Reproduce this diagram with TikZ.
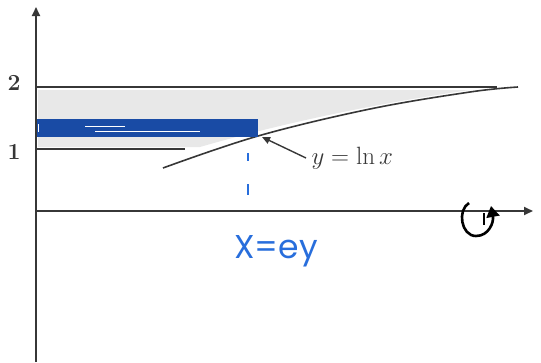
\documentclass[tikz,border=0pt]{standalone}
\usepackage{fontspec}
\newfontfamily\handfont{Poppins}
\usetikzlibrary{arrows.meta}
\definecolor{ink}{RGB}{55,55,55}
\definecolor{penblue}{RGB}{25,75,165}
\definecolor{lightblue}{RGB}{40,110,220}
\definecolor{greyfill}{RGB}{232,232,232}
\tikzset{
  axis/.style={draw=ink, line width=1.8pt, -{Triangle[length=9pt,width=8pt]}},
  guide/.style={draw=ink, line width=1.6pt},
  ticklabel/.style={text=ink, font=\bfseries\fontsize{23}{23}\selectfont},
  curvelabel/.style={text=ink, font=\fontsize{25}{25}\selectfont},
}
\begin{document}
\begin{tikzpicture}[x=1pt,y=-1pt]
\useasboundingbox (0,0) rectangle (541,362);
% shading between y=1 and y=2, left of curve
\fill[greyfill] (38,90) -- (470,90) .. controls (400,100) and (300,118) .. (200,147) -- (38,147) -- cycle;
% coordinates
\coordinate (O) at (36,211);
\coordinate (ytop) at (36,7);
\coordinate (ybot) at (36,362);
\coordinate (xend) at (533,211);
\coordinate (two) at (36,87);
\coordinate (twoend) at (497,87);
\coordinate (one) at (36,149);
\coordinate (oneend) at (185,149);
% axes
\draw[axis] (ybot) -- (ytop);
\draw[axis] (O) -- (xend);
% horizontal lines
\draw[guide] (two) -- (twoend);
\draw[guide] (one) -- (oneend);
% curve y = ln x
\draw[guide] plot[smooth, tension=0.6] coordinates {(163,168) (258,136) (370,109) (470,92) (518,87)};
% labels
\node[ticklabel] (l2) at (14,83) {2};
\node[ticklabel] (l1) at (14,152) {1};
\node[curvelabel, anchor=west] (lab) at (308,158) {$y=\ln x$};
\coordinate (arrtip) at (262,137);
\draw[ink, line width=1.4pt, -{Triangle[length=8pt,width=7pt]}] ([xshift=-2pt]lab.west) -- (arrtip);
% blue rectangle
\node[draw=penblue, fill=penblue, line width=3pt, minimum width=218pt, minimum height=15pt, inner sep=0pt] (rect) at (147,128) {};
\draw[white, line width=0.8pt] (85,126) -- (125,126);
\draw[white, line width=0.6pt] (95,131) -- (200,131);
\draw[white, line width=1pt] (38,124) -- (38,132);
% blue dashes
\coordinate (d1) at (248,153);
\coordinate (d2) at (248,161);
\coordinate (d3) at (248,184);
\coordinate (d4) at (248,195);
\draw[lightblue, line width=2.2pt] (d1) -- (d2);
\draw[lightblue, line width=2.2pt] (d3) -- (d4);
% handwritten text
\node[text=lightblue, font=\handfont\fontsize{33}{33}\selectfont] (xe) at (276,251) {X=ey};
% rotation symbol
\draw[black, line width=2.6pt, -{Triangle[length=11pt,width=13pt]}] (469,203) .. controls (457,210) and (461,236) .. (476,236) .. controls (489,236) and (494,222) .. (491,206);
\draw[black, line width=2pt] (484,213) -- (484,225);
\end{tikzpicture}
\end{document}
